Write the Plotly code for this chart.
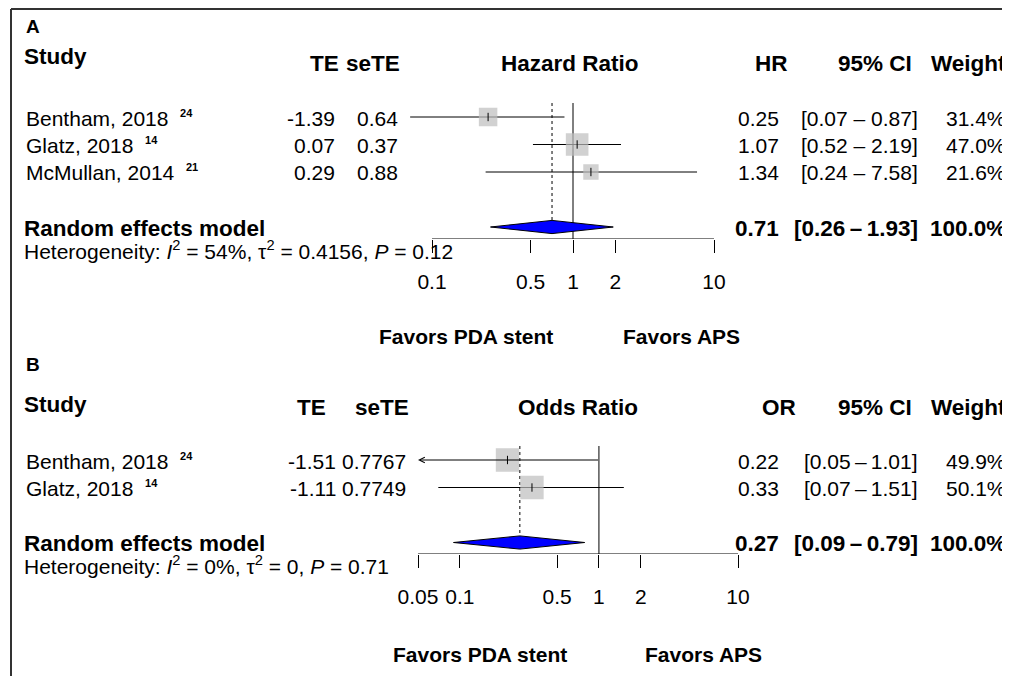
import numpy as np
import plotly.graph_objects as go

W, H = 1010, 676
OFF = 8  # page body margin of the viewer
FONT = "Liberation Sans, Arial, sans-serif"
REG = 21
BOLD = 22.5

# ---------------- Panel A data ----------------
a_studies = ["Bentham, 2018", "Glatz, 2018", "McMullan, 2014"]
a_refs = ["24", "14", "21"]
a_te = ["-1.39", "0.07", "0.29"]
a_sete = ["0.64", "0.37", "0.88"]
a_est = [0.25, 1.07, 1.34]
a_lo = [0.07, 0.52, 0.24]
a_hi = [0.87, 2.19, 7.58]
a_wt = [31.4, 47.0, 21.6]
a_pool = [0.71, 0.26, 1.93]
a_het = "Heterogeneity: <i>I</i><sup>2</sup> = 54%, τ<sup>2</sup> = 0.4156, <i>P</i> = 0.12"
a_ticks = [0.1, 0.5, 1, 2, 10]
a_ticktext = ["0.1", "0.5", "1", "2", "10"]
a_xlim = [0.05, 10]
a_measure = "Hazard Ratio"
a_short = "HR"

# ---------------- Panel B data ----------------
b_studies = ["Bentham, 2018", "Glatz, 2018"]
b_refs = ["24", "14"]
b_te = ["-1.51", "-1.11"]
b_sete = ["0.7767", "0.7749"]
b_est = [0.22, 0.33]
b_lo = [0.05, 0.07]
b_hi = [1.01, 1.51]
b_wt = [49.9, 50.1]
b_pool = [0.27, 0.09, 0.79]
b_het = "Heterogeneity: <i>I</i><sup>2</sup> = 0%, τ<sup>2</sup> = 0, <i>P</i> = 0.71"
b_ticks = [0.05, 0.1, 0.5, 1, 2, 10]
b_ticktext = ["0.05", "0.1", "0.5", "1", "2", "10"]
b_xlim = [0.05, 10]
b_measure = "Odds Ratio"
b_short = "OR"

left_label = "Favors PDA stent"
right_label = "Favors APS"


def px(x):
    return (x - OFF) / W


def py(y):
    return 1 - (y - OFF) / H


fig = go.Figure()
annotations = []
shapes = []


def txt(x, y, s, anchor="left", bold=False, size=None):
    annotations.append(dict(
        x=px(x), y=py(y), xref="paper", yref="paper", text=(f"<b>{s}</b>" if bold else s),
        showarrow=False, xanchor=anchor, yanchor="middle",
        font=dict(family=FONT, size=size or (BOLD if bold else REG), color="black"),
    ))


def panel(idx, letter, studies, refs, te, sete, est, lo, hi, wt, pool, het,
          ticks, ticktext, xlim, measure, short,
          x_px, row1_px, axis_px, top_px, cols, ytop):
    xa = "xaxis" if idx == 1 else f"xaxis{idx}"
    ya = "yaxis" if idx == 1 else f"yaxis{idx}"
    xr = "x" if idx == 1 else f"x{idx}"
    yr = "y" if idx == 1 else f"y{idx}"
    n = len(studies)
    rows = list(range(1, n + 1))
    pool_row = n + 2
    step = 27.5
    r_axis = 1 + (axis_px - row1_px) / step
    r_top = 1 + (top_px - row1_px) / step
    dom_bottom = py(axis_px)
    dom_top = py(row1_px - step)
    t0, t1 = np.log10(ticks[0]), np.log10(ticks[-1])
    dec = (x_px[1] - x_px[0]) / (t1 - t0)
    l0, l1 = np.log10(xlim[0]), np.log10(xlim[1])
    d0 = x_px[0] + (l0 - t0) * dec
    d1 = x_px[1] + (l1 - t1) * dec
    fig.update_layout({
        xa: dict(type="log", range=[l0, l1],
                 domain=[px(d0), px(d1)], anchor=yr,
                 showline=False, ticks="outside", ticklen=13, tickwidth=1, tickcolor="black",
                 tickvals=ticks, ticktext=ticktext, showgrid=False, zeroline=False,
                 tickfont=dict(family=FONT, size=REG, color="black"),
                 ticklabelstandoff=11, fixedrange=True, automargin=False),
        ya: dict(range=[r_axis, 0], domain=[dom_bottom, dom_top], anchor=xr,
                 visible=False, showgrid=False, zeroline=False, fixedrange=True,
                 automargin=False),
    })
    # axis line spanning the ticks
    fig.add_trace(go.Scatter(x=[ticks[0], ticks[-1]], y=[r_axis, r_axis], mode="lines",
                             line=dict(color="black", width=1), xaxis=xr, yaxis=yr,
                             cliponaxis=False, showlegend=False, hoverinfo="skip"))
    # reference line at 1
    fig.add_trace(go.Scatter(x=[1, 1], y=[r_top, r_axis], mode="lines",
                             line=dict(color="black", width=1), xaxis=xr, yaxis=yr,
                             showlegend=False, hoverinfo="skip"))
    # pooled estimate dotted line
    fig.add_trace(go.Scatter(x=[pool[0], pool[0]], y=[r_top, pool_row], mode="lines",
                             line=dict(color="black", width=1, dash="dot"), xaxis=xr, yaxis=yr,
                             showlegend=False, hoverinfo="skip"))
    # CI lines
    for r, l, h in zip(rows, lo, hi):
        if l <= xlim[0]:
            annotations.append(dict(
                x=np.log10(xlim[0]), y=r, xref=xr, yref=yr,
                ax=np.log10(h), ay=r, axref=xr, ayref=yr,
                showarrow=True, arrowhead=5, arrowsize=1.1, arrowwidth=1,
                arrowcolor="black", text=""))
        else:
            fig.add_trace(go.Scatter(x=[l, h], y=[r, r], mode="lines",
                                     line=dict(color="black", width=1), xaxis=xr, yaxis=yr,
                                     showlegend=False, hoverinfo="skip"))
    # weight squares
    fig.add_trace(go.Scatter(x=est, y=rows, mode="markers",
                             marker=dict(symbol="square", color="#BEBEBE",
                                         size=[3.3 * np.sqrt(w) for w in wt],
                                         line=dict(width=0)),
                             xaxis=xr, yaxis=yr, showlegend=False, hoverinfo="skip"))
    fig.add_trace(go.Scatter(x=est, y=rows, mode="markers",
                             marker=dict(symbol="line-ns", size=6,
                                         line=dict(width=1, color="black")),
                             xaxis=xr, yaxis=yr, showlegend=False, hoverinfo="skip"))
    # diamond
    hh = 0.24
    fig.add_trace(go.Scatter(x=[pool[1], pool[0], pool[2], pool[0], pool[1]],
                             y=[pool_row, pool_row - hh, pool_row, pool_row + hh, pool_row],
                             mode="lines", fill="toself", fillcolor="#0000FF",
                             line=dict(color="black", width=1), xaxis=xr, yaxis=yr,
                             showlegend=False, hoverinfo="skip"))

    # ----- text columns -----
    row_px = [row1_px + (r - 1) * step for r in rows]
    pool_px = row1_px + (pool_row - 1) * step
    txt(24, ytop[0], letter, bold=True, size=19)
    txt(22, ytop[1], "Study", bold=True)
    hy = ytop[2]
    txt(cols["te_h"], hy, "TE", anchor="right", bold=True)
    txt(cols["se_h"], hy, "seTE", anchor="right", bold=True)
    txt(cols["meas"], hy, measure, anchor="center", bold=True)
    txt(cols["est_h"], hy, short, anchor="right", bold=True)
    txt(cols["ci_h"], hy, "95% CI", anchor="right", bold=True)
    txt(1008, hy, "Weight", anchor="right", bold=True)
    thin = "\u2009–\u2009"
    for i in range(n):
        y = row_px[i] + 1
        label = (f"{studies[i]}&nbsp; <sup><span style='font-size:11px'><b>{refs[i]}</b></span></sup>")
        txt(24, y, label)
        txt(cols["te"], y, te[i], anchor="right")
        txt(cols["se"], y, sete[i], anchor="right")
        txt(cols["est"], y, f"{est[i]:.2f}", anchor="right")
        txt(cols["ci"], y, f"[{lo[i]:.2f}{cols['dash']}{hi[i]:.2f}]", anchor="right")
        txt(1008, y, f"{wt[i]:.1f}%", anchor="right")
    txt(22, pool_px + 1, "Random effects model", bold=True)
    txt(cols["est"], pool_px + 1, f"{pool[0]:.2f}", anchor="right", bold=True)
    txt(cols["ci"], pool_px + 1, f"[{pool[1]:.2f}{thin}{pool[2]:.2f}]", anchor="right", bold=True)
    txt(1008, pool_px + 1, "100.0%", anchor="right", bold=True)
    txt(22, pool_px + cols["het_dy"], het)
    txt(cols["lab_l"], ytop[3], left_label, anchor="center", bold=True, size=21)
    txt(cols["lab_r"], ytop[3], right_label, anchor="center", bold=True, size=21)


panel(1, "A", a_studies, a_refs, a_te, a_sete, a_est, a_lo, a_hi, a_wt, a_pool, a_het,
      a_ticks, a_ticktext, a_xlim, a_measure, a_short,
      x_px=(432, 714), row1_px=117, axis_px=239, top_px=103,
      cols=dict(te_h=341, se_h=402, meas=570, est_h=790, ci_h=914,
                te=337, se=400, est=781, ci=920, dash=" – ", lab_l=466, lab_r=681,
                het_dy=23),
      ytop=(26, 57, 63, 336))

panel(2, "B", b_studies, b_refs, b_te, b_sete, b_est, b_lo, b_hi, b_wt, b_pool, b_het,
      b_ticks, b_ticktext, b_xlim, b_measure, b_short,
      x_px=(418, 738), row1_px=460, axis_px=554, top_px=446,
      cols=dict(te_h=328, se_h=411, meas=578, est_h=798, ci_h=914,
                te=338, se=408, est=781, ci=920, dash="\u2009–\u2009", lab_l=480, lab_r=703,
                het_dy=22),
      ytop=(364, 405, 407, 654))

shapes.append(dict(type="line", xref="paper", yref="paper", x0=px(11), x1=1, y0=py(9), y1=py(9),
                   line=dict(color="#333333", width=2)))
shapes.append(dict(type="line", xref="paper", yref="paper", x0=px(11), x1=px(11), y0=py(9), y1=0,
                   line=dict(color="#333333", width=2)))

fig.update_layout(width=W, height=H,
                  margin=dict(l=0, r=0, t=0, b=0, pad=0, autoexpand=False),
                  paper_bgcolor="white", plot_bgcolor="white",
                  annotations=annotations, shapes=shapes, showlegend=False,
                  font=dict(family=FONT, color="black"))

fig.write_html("out.html")
